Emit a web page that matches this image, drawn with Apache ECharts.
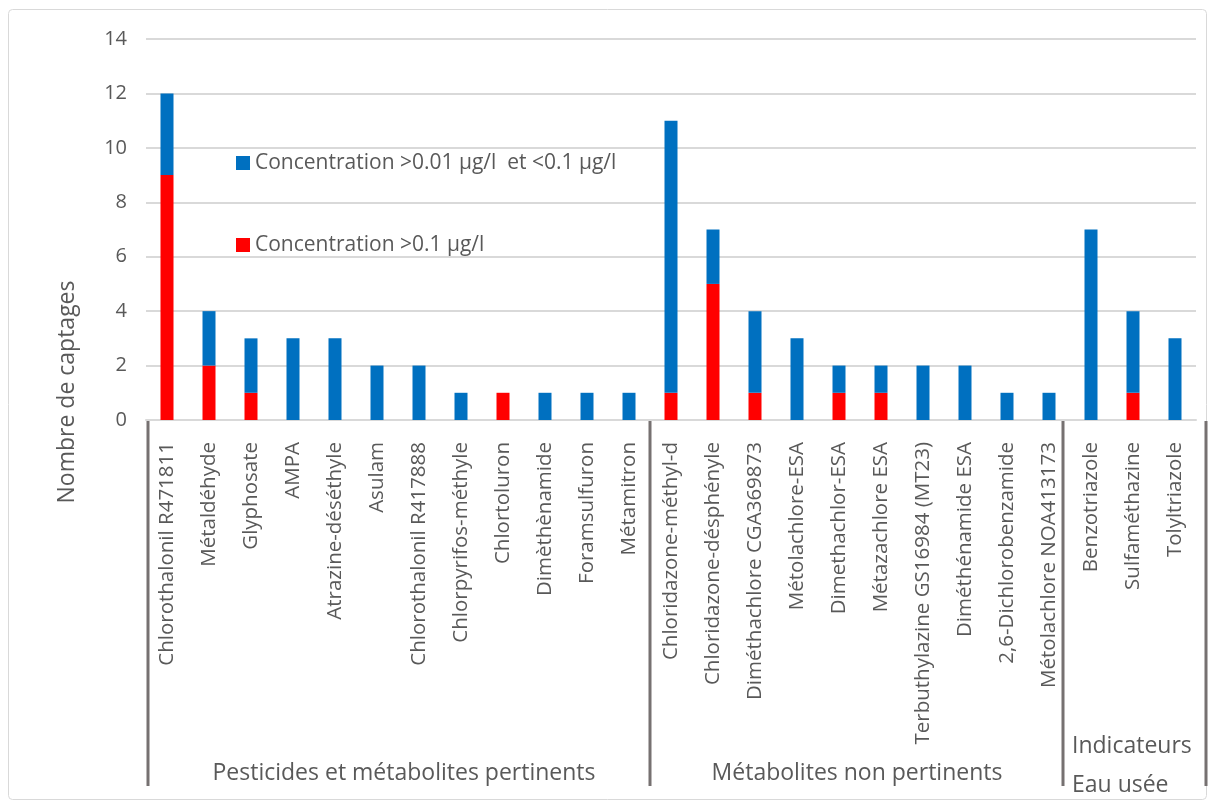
<!DOCTYPE html>
<html><head><meta charset="utf-8">
<script src="https://cdn.jsdelivr.net/npm/echarts@6/dist/echarts.min.js"></script>
<style>html,body{margin:0;padding:0;background:#fff}#c{width:1214px;height:807px}</style>
</head><body><div id="c"></div>
<script>
const categories = ['Chlorothalonil R471811','Métaldéhyde','Glyphosate','AMPA','Atrazine-déséthyle','Asulam','Chlorothalonil R417888','Chlorpyrifos-méthyle','Chlortoluron','Dimèthènamide','Foramsulfuron','Métamitron',
 'Chloridazone-méthyl-d','Chloridazone-désphényle','Diméthachlore CGA369873','Métolachlore-ESA','Dimethachlor-ESA','Métazachlore ESA','Terbuthylazine GS16984 (MT23)','Diméthénamide ESA','2,6-Dichlorobenzamide','Métolachlore NOA413173',
 'Benzotriazole','Sulfaméthazine','Tolyltriazole'];
const redValues  = [9,2,1,0,0,0,0,0,1,0,0,0, 1,5,1,0,1,1,0,0,0,0, 0,1,0];
const blueValues = [3,2,2,3,3,2,2,1,0,1,1,1, 10,2,3,3,1,1,2,2,1,1, 7,3,3];
const seriesNames = ['Concentration >0.1 µg/l','Concentration >0.01 µg/l  et <0.1 µg/l'];
const groups = [
  {label:['Pesticides et métabolites pertinents'], start:0, end:11},
  {label:['Métabolites non pertinents'], start:12, end:21},
  {label:['Indicateurs','Eau usée'], start:22, end:24}
];
const yTicks = [0,2,4,6,8,10,12,14];
const FONT = 'Open Sans';
const GRAY = '#595959';

const chart = echarts.init(document.getElementById('c'));
chart.setOption({
  animation:false,
  grid:{left:146,right:18,top:39,bottom:387,containLabel:false},
  legend:{orient:'vertical',left:231,top:147,itemGap:60,itemWidth:14,itemHeight:14,
    data:[seriesNames[1],seriesNames[0]],icon:'rect',
    textStyle:{fontFamily:FONT,fontSize:21,lineHeight:22,color:GRAY}},
  xAxis:{type:'category',data:categories,
    axisLine:{lineStyle:{color:'#d9d9d9',width:2}},
    axisTick:{show:false},
    axisLabel:{rotate:90,interval:0,margin:22,fontFamily:FONT,fontSize:20.5,color:GRAY}},
  yAxis:{type:'value',min:yTicks[0],max:yTicks[yTicks.length-1],interval:2,
    axisLine:{show:false},axisTick:{show:false},
    splitLine:{lineStyle:{color:'#d9d9d9',width:2}},
    axisLabel:{margin:19,fontFamily:FONT,fontSize:20,color:GRAY}},
  series:[
    {name:seriesNames[0],type:'bar',stack:'a',data:redValues,barWidth:13,itemStyle:{color:'#FF0000'}},
    {name:seriesNames[1],type:'bar',stack:'a',data:blueValues,barWidth:13,itemStyle:{color:'#0070C0'}}
  ]
});

function drawExtras(){
  const els = [];
  const y0 = chart.convertToPixel({yAxisIndex:0},0);
  const half = (chart.convertToPixel({xAxisIndex:0},1)-chart.convertToPixel({xAxisIndex:0},0))/2;
  const bounds = [0];
  groups.forEach(g=>bounds.push(g.end+1));
  const sepShift = [2,0,-7,10];
  bounds.forEach((b,i)=>{
    let x = b<categories.length ? chart.convertToPixel({xAxisIndex:0},b)-half : chart.convertToPixel({xAxisIndex:0},categories.length-1)+half;
    x += sepShift[i];
    els.push({type:'line',shape:{x1:x,y1:y0+1,x2:x,y2:786},style:{stroke:'#767171',lineWidth:3},silent:true});
  });
  const labelShift = [6,-3,0];
  groups.forEach((g,gi)=>{
    const xs = chart.convertToPixel({xAxisIndex:0},g.start)-half;
    const xe = chart.convertToPixel({xAxisIndex:0},g.end)+half;
    if(g.label.length===1){
      els.push({type:'text',x:(xs+xe)/2+labelShift[gi],y:773,style:{text:g.label[0],fill:GRAY,font:'23px '+FONT,align:'center',verticalAlign:'middle'}});
    } else {
      g.label.forEach((t,i)=>els.push({type:'text',x:xs+2,y:746+i*39,style:{text:t,fill:GRAY,font:'23px '+FONT,align:'left',verticalAlign:'middle'}}));
    }
  });
  els.push({type:'text',x:67,y:392,rotation:Math.PI/2,style:{text:'Nombre de captages',fill:GRAY,font:'23px '+FONT,align:'center',verticalAlign:'middle'}});
  els.push({type:'rect',shape:{x:8.5,y:9.5,width:1198,height:790,r:4},style:{fill:'none',stroke:'#d9d9d9',lineWidth:1},silent:true,z:-1});
  chart.setOption({graphic:{elements:els}});
}
drawExtras();
</script>
</body></html>
